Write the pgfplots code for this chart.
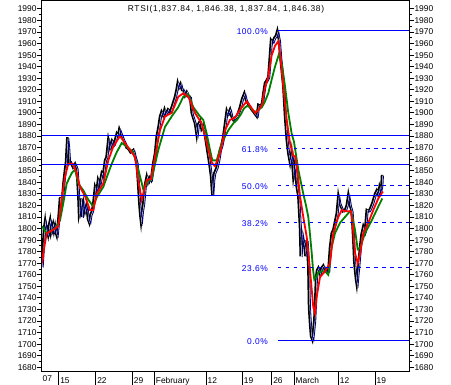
\documentclass[border=0pt]{standalone}
\usepackage{fontspec}
\setmainfont{Liberation Sans}
\usepackage{pgfplots}
\pgfplotsset{compat=1.18}
\usepackage{pgfplotstable}
\definecolor{fibblue}{RGB}{0,0,255}
\definecolor{navyc}{RGB}{0,0,128}
\definecolor{grn}{RGB}{0,128,0}
\definecolor{rd}{RGB}{255,0,0}
\newcommand{\lblfont}{\fontsize{8.4}{10}\selectfont}

% x: chart time position (intraday, 1 unit = 1/7.35 trading day), y: RTSI level
\pgfplotstableread{
x y
41.7 1767
42.5 1778
43 1785
44 1800
45 1806
46 1796
47 1799
48 1795
49 1803
50 1807
51 1797
52 1801
53 1804
54 1798
55 1802
56 1796
56.7 1794
58 1805
59 1815
60 1827
61 1820
62 1824
63.5 1840
65 1851
66 1858
66.5 1866
67.3 1879
68.3 1870
69.3 1856
71 1857
73 1853
75 1856
76.7 1852
78.3 1828
79 1812
80 1816
81 1826
82 1810
83.5 1822
85 1815
86.5 1820
88 1808
89.3 1805
90.5 1812
92 1815
93.3 1822
95 1836
96.5 1832
98 1842
99.5 1838
101.7 1848
103 1846
105 1859
106.5 1862
108.3 1877
110 1870
112 1876
114 1873
116.7 1882
118 1880
119.3 1886
121 1882
123.3 1877
125 1874
126.5 1870
128.3 1869
130.5 1866
133.3 1868
135 1862
136.7 1857
138 1840
139.3 1822
140.2 1812
141 1806
142 1815
143.3 1822
145 1838
146.7 1845
148 1840
149.5 1844
151 1842
153.3 1857
155 1865
156.7 1880
158.5 1888
160 1897
161.5 1901
163 1898
164.5 1903
166 1899
168 1903
170 1901
171.7 1905
173.5 1910
175 1914
176.5 1920
177.7 1926
179 1922
180.5 1925
182 1920
183.3 1920
185 1915
186.7 1918
188.5 1914
190 1914
191.7 1900
193.5 1895
195 1891
196.7 1881
198 1890
200 1893
201.5 1886
203.3 1889
205 1880
206.5 1872
208.3 1862
210 1852
211 1845
212.3 1829
213.3 1842
214.3 1848
216.7 1853
218.5 1860
220 1868
221.5 1872
223.3 1880
225 1891
226.7 1902
228 1899
230 1903
231.5 1897
233.3 1894
235 1896
236.7 1897
238.5 1901
240 1905
242 1912
244.3 1917
246 1911
248 1908
250 1905
251.5 1903
253.3 1901
255 1899
256.7 1897
258.3 1907
260 1906
262 1908
263.5 1918
265 1926
266.5 1928
268.3 1931
269.5 1945
271 1963
272.5 1961
274.3 1965
276 1967
277.3 1971
278.3 1966
279 1963
280.3 1948
281.7 1937
283.3 1923
285 1897
286.7 1877
288.3 1865
290 1857
291.5 1866
293.3 1845
295 1856
296.7 1836
298.3 1828
299.3 1812
300 1800
300.7 1776
301.7 1796
303 1790
304.5 1784
305.5 1776
306.7 1790
308.3 1767
309 1732
310 1718
311 1707
312.3 1704
313.3 1712
314.3 1721
315.2 1738
316 1757
317 1764
318.3 1766
320 1761
321.5 1766
323.3 1768
325 1764
326.7 1763
328.3 1763
330 1784
331.7 1796
333.3 1799
335 1806
336.7 1813
338.3 1828
339.5 1822
341 1819
343 1815
345 1816
346.7 1820
348.3 1829
350 1820
351.7 1815
353.3 1790
354.2 1772
355 1764
356 1756
356.7 1752
357.5 1760
358.3 1767
360 1784
361.5 1795
363.3 1802
365 1798
366.7 1816
368.5 1815
370 1817
372.3 1822
374 1827
375 1830
376.7 1833
378.3 1829
379.5 1836
380.5 1833
381.5 1838
382 1846.4
}\price

\pgfplotstableread{
x y
42 1770
43.3 1779
46.7 1796
53.3 1799
58.3 1802
61.7 1825
65 1845
68.3 1856
73 1856
76.7 1848
80 1836
85 1828
90 1816
93.3 1816
96.7 1830
103.3 1839
108.3 1859
113.3 1871
120 1880
125 1874
130 1868
135 1862
138.3 1842
141.7 1825
146.7 1842
151 1843
155 1862
160 1885
165 1897
171.7 1900
178.3 1914
183.3 1917
188.3 1914
195 1900
201.7 1891
206.7 1874
211.7 1857
215 1854
220 1865
225 1885
230 1894
235 1896
241 1904
246.7 1910
251 1905
255 1900
258 1902
262 1907
265 1922
268 1930
271.7 1950
275 1958
278.3 1962
280 1952
283.3 1923
286.7 1894
290 1874
293.3 1863
295.5 1862
298 1845
300 1828
303.3 1810
306.7 1793
310 1764
313.3 1732
315 1727
316.7 1741
320 1758
325 1763
330 1770
333.3 1796
338.3 1810
341.7 1816
346 1815
351 1815
353 1800
355 1779
357.7 1770
360 1778
363.3 1796
368.3 1805
373.3 1816
378.3 1826
381.7 1830.5
383 1832
}\redma

\pgfplotstableread{
x y
42 1802
46.7 1796
55 1800
60 1807
63.3 1822
66.7 1839
71.7 1848
75 1851
78.3 1839
83.3 1833
88.3 1825
93.3 1819
96.7 1827
103.3 1836
108.3 1848
111.7 1856
116.7 1866
121.7 1874
126.7 1871
133.3 1866
138.3 1851
143.3 1834
148.3 1841
151.7 1843
158.3 1868
165 1888
171.7 1897
178.3 1905
183.3 1914
188.3 1916
193.3 1905
200 1897
203.3 1894
206.7 1882
210 1868
212.3 1859
216.7 1859
221.7 1874
228.3 1885
233.3 1891
237 1894
241 1899
244 1904
247 1906
250 1905
253 1902
256 1901
259 1903
262 1905
265 1910
268.3 1917
272 1930
275 1940
279 1951
281.7 1943
285 1923
288.3 1900
291.7 1882
294 1875
298.3 1851
303.3 1830
306 1820
308.3 1810
310 1795
311.7 1779
313 1765
314.3 1756
316 1758
318.3 1762
322 1763
325 1763
328.3 1760
330 1772
331.7 1784
335 1796
340 1805
345 1810
350 1815
352 1812
355 1799
357.7 1782
360 1783
365 1796
371.7 1807
378.3 1819
382.3 1826
}\grnma

\begin{document}
\begin{tikzpicture}
\pgfplotsset{
  rtsbase/.style={
    at={(41.7pt,13.3pt)}, anchor=south west,
    scale only axis, width=367.6pt, height=371.7pt,
    xmin=41.7, xmax=409.3, ymin=1676.2, ymax=1997.7,
    axis line style={line width=0.9pt},
    tick style={line width=0.9pt, black},
    tick align=outside,
    ytick={1680,1690,...,1990}, minor y tick num=1,
    major tick length=5pt, minor tick length=2.5pt,
    tick label style={font=\lblfont},
    /pgf/number format/assume math mode=true,
    /pgf/number format/1000 sep={},
  },
  hline/.style={draw=fibblue, line width=1pt},
  fibdash/.style={draw=fibblue, line width=1pt, dash pattern=on 3.5pt off 4.5pt},
}
\begin{axis}[rtsbase,
  ytick pos=left,
  xtick pos=bottom,
  xtick=\empty,
  extra x ticks={58.7,95.7,132.3,154.3,206,242.3,271.7,294,338.3,375},
  extra x tick labels={15,22,29,February,12,19,26,March,12,19},
  extra x tick style={major tick length=13pt,
    xticklabel style={anchor=base west, inner sep=0pt, xshift=1.4pt, yshift=1.2pt}},
  yticklabel style={inner sep=0pt, xshift=0pt},
]
\addplot[black, line width=2.4pt] table {\price};
\addplot[white, line width=0.5pt, xshift=0.8pt, yshift=-0.4pt] table {\price};
\addplot[navyc, line width=0.8pt, xshift=1.5pt, yshift=-0.8pt] table {\price};
\addplot[grn, line width=1.8pt] table {\grnma};
\addplot[rd, line width=1.8pt] table {\redma};
% support / resistance lines
\addplot[hline] coordinates {(41.7,1880.5) (409.3,1880.5)};
\addplot[hline] coordinates {(41.7,1855.4) (409.3,1855.4)};
\addplot[hline] coordinates {(41.7,1828.6) (409.3,1828.6)};
% Fibonacci retracement (high 1971.3, low 1703.2)
\addplot[hline] coordinates {(278,1971.3) (409.3,1971.3)};
\addplot[fibdash] coordinates {(278,1869.3) (409.3,1869.3)};
\addplot[fibdash] coordinates {(278,1837.3) (409.3,1837.3)};
\addplot[fibdash] coordinates {(278,1805.3) (409.3,1805.3)};
\addplot[fibdash] coordinates {(278,1766.3) (409.3,1766.3)};
\addplot[hline] coordinates {(278,1703.2) (409.3,1703.2)};
\begin{scope}[every node/.style={anchor=base east, inner sep=0pt, text=fibblue, font=\lblfont\addfontfeature{LetterSpace=6}, yshift=-4.4pt}]
\node at (axis cs:268,1971.3) {100.0\%};
\node at (axis cs:268,1869.3) {61.8\%};
\node at (axis cs:268,1837.3) {50.0\%};
\node at (axis cs:268,1805.3) {38.2\%};
\node at (axis cs:268,1766.3) {23.6\%};
\node at (axis cs:268,1703.2) {0.0\%};
\end{scope}
\node[anchor=base, inner sep=0pt, font=\lblfont\addfontfeature{LetterSpace=8}] at (axis cs:226,1987.8) {RTSI(1,837.84, 1,846.38, 1,837.84, 1,846.38)};
\end{axis}
\begin{axis}[rtsbase,
  ytick pos=right, yticklabel pos=right,
  xtick=\empty,
  yticklabel style={inner sep=0pt, xshift=0pt},
]
\end{axis}
\node[anchor=base west, inner sep=0pt, font=\lblfont] at (42.4pt,3pt) {07};
\pgfresetboundingbox
\path[use as bounding box] (0,0) rectangle (451pt,385pt);
\end{tikzpicture}
\end{document}
